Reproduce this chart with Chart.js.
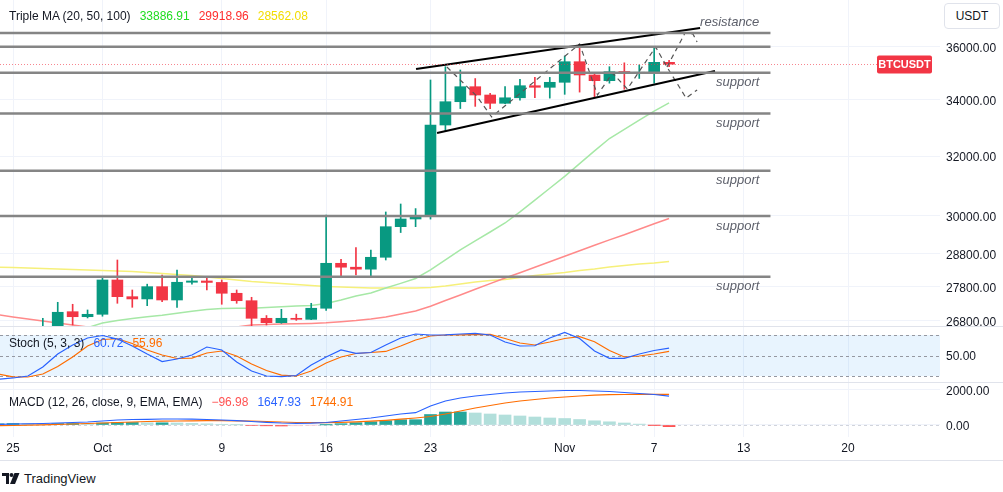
<!DOCTYPE html>
<html>
<head>
<meta charset="utf-8">
<title>BTCUSDT</title>
<script src="https://cdn.jsdelivr.net/npm/chart.js@4.4.0/dist/chart.umd.min.js"></script>
<style>
  body { margin: 0; background: #fff; font-family: 'Liberation Sans', Arial, sans-serif; }
  #wrap { position: relative; width: 1003px; height: 492px; overflow: hidden; }
  #c { position: absolute; left: 0; top: 0; }
  .lbl { position: absolute; left: 9px; font-size: 12px; line-height: 14px; color: #131722; white-space: nowrap; }
  .lbl span { margin-left: 9px; }
  #unit { position: absolute; left: 944px; top: 3px; width: 54px; height: 24px; border: 1px solid #e0e3eb;
          border-radius: 4px; font-size: 12px; line-height: 24px; text-align: center; color: #131722; background: #fff; }
  #brand { position: absolute; left: 2px; top: 471px; font-size: 13px; color: #131722; display: flex; align-items: center; }
  #brand svg { margin-right: 4px; }
</style>
</head>
<body>
<div id="wrap">
  <canvas id="c" width="1003" height="462"></canvas>
  <div class="lbl" style="top:9px">Triple MA (20, 50, 100)<span style="color:#1fdc1f">33886.91</span><span style="color:#ff2e2e">29918.96</span><span style="color:#f2dc00">28562.08</span></div>
  <div class="lbl" style="top:336px">Stoch (5, 3, 3)<span style="color:#2962ff">60.72</span><span style="color:#ff6d00">55.96</span></div>
  <div class="lbl" style="top:395px">MACD (12, 26, close, 9, EMA, EMA)<span style="color:#ff5252">&minus;96.98</span><span style="color:#2962ff">1647.93</span><span style="color:#ff6d00">1744.91</span></div>
  <div id="unit">USDT</div>
  <div id="brand">
    <svg width="18" height="11" viewBox="0 0 18 11"><path d="M0 0h7v11H4V3H0z" fill="#131722"/><circle cx="9.5" cy="2" r="2" fill="#131722"/><path d="M12.5 0h5l-4.5 11H8z" fill="#131722"/></svg>
    TradingView
  </div>
</div>
<script>
// daily candles, Sep 24 .. Nov 8
const dates = ['Sep 24','Sep 25','Sep 26','Sep 27','Sep 28','Sep 29','Sep 30',
  'Oct 1','Oct 2','Oct 3','Oct 4','Oct 5','Oct 6','Oct 7','Oct 8','Oct 9','Oct 10','Oct 11','Oct 12','Oct 13',
  'Oct 14','Oct 15','Oct 16','Oct 17','Oct 18','Oct 19','Oct 20','Oct 21','Oct 22','Oct 23','Oct 24','Oct 25',
  'Oct 26','Oct 27','Oct 28','Oct 29','Oct 30','Oct 31','Nov 1','Nov 2','Nov 3','Nov 4','Nov 5','Nov 6','Nov 7','Nov 8'];

const opens  = [null,null,null,26400,26500,27062,26916,26986,28002,27503,27436,27801,27405,27933,27972,27928,27604,27384,26870,26743,26870,26840,27162,28510,28390,28330,28695,29656,29903,29996,33088,33929,34482,34175,33871,34073,34519,34460,34646,35423,34920,34706,35050,34985,35020,35400];
const highs  = [null,null,null,26870,27337,27279,27112,28090,28611,27702,27876,28153,28305,28063,28101,28002,27702,27485,26950,27132,26990,27308,30032,28632,28993,28921,30130,30390,30240,34732,35233,35108,34786,34240,34482,34759,34830,34830,35640,36000,35000,35233,35380,35300,36000,35480];
const lows   = [null,null,null,26350,26450,26677,26880,26930,27308,27190,27237,27355,27190,27876,27702,27279,27308,26650,26677,26725,26810,26830,27100,28102,28153,28102,28611,29470,29656,29900,32870,33680,33759,33680,33860,33985,34073,34060,34200,34282,34102,34613,34387,34790,34613,35230];
const closes = [null,null,null,26500,27045,26916,26986,28002,27503,27436,27801,27405,27933,27972,27928,27604,27384,26870,26743,26870,26840,27162,28510,28390,28330,28695,29656,29903,29996,33088,33929,34482,34175,33871,34073,34519,34460,34646,35423,34920,34706,35044,34985,35020,35400,35330];

const ma20  = [null,null,null,null,null,null,26600,26735,26807,26862,26914,26957,27016,27074,27127,27156,27162,27162,27185,27206,27230,27244,27300,27405,27524,27612,27762,27900,28046,28308,28614,28927,29205,29487,29775,30133,30518,30910,31310,31740,32180,32610,32930,33260,33590,33887];
const ma50  = [26972,26910,26850,26792,26735,26677,26620,26590,26570,26555,26545,26540,26540,26545,26555,26570,26620,26677,26691,26706,26714,26723,26740,26769,26804,26850,26908,26995,27083,27220,27388,27554,27723,27893,28060,28223,28390,28555,28725,28897,29068,29237,29399,29575,29752,29919];
const ma100 = [28390,28381,28366,28351,28336,28320,28305,28290,28275,28259,28229,28198,28168,28137,28092,28046,28002,27957,27927,27897,27867,27837,27807,27792,27777,27762,27762,27762,27762,27777,27822,27882,27942,27987,28017,28077,28137,28183,28229,28290,28336,28397,28443,28489,28519,28562];

const stochK = [15.2,17.1,20,33.2,52.2,65.4,75.6,79.3,74.2,63.9,52.2,41.2,44.9,50.7,62.4,58.1,40.5,27.3,20,19,20.7,36.1,47.8,58.1,53.2,54.4,65.4,75.6,81.5,80,80.3,81.5,82.5,80,69.8,63.9,64.3,75.6,83.7,74.9,56.6,45.9,45.9,52.2,57.3,60.72];
const stochD = [22.9,18.8,18.5,22.9,33.9,47.8,63.9,73.4,74.5,67.6,58.1,50.7,45.6,46.3,53.7,56.6,49.3,37.6,28,21.4,20,27.3,39,47.8,52.9,54.4,55.9,63.9,72.7,78.6,80,80.3,80.7,81,74.9,68.3,65.4,69.8,74.9,77.5,70.2,57.3,47.8,49.3,52.2,55.96];

const macdLine   = [29,57,70,86,114,143,171,229,286,314,326,343,343,331,314,286,246,200,154,114,97,103,143,229,314,400,514,629,703,1086,1371,1543,1657,1743,1829,1886,1914,1943,1971,1971,1943,1914,1857,1800,1743,1648];
const signalLine = [-40,-29,-11,11,34,57,86,114,143,171,200,217,229,240,246,246,240,229,200,171,143,131,137,154,183,217,269,331,400,486,629,800,971,1114,1257,1371,1457,1543,1600,1657,1703,1731,1743,1749,1749,1745];
const macdHist   = [69,86,81,75,80,86,85,115,143,143,126,126,114,91,68,40,6,-29,-46,-57,-46,-28,6,75,131,183,245,298,303,600,742,743,686,629,572,515,457,400,371,314,240,183,114,51,-6,-97];

// time axis
const tickDays   = [1, 7, 15, 22, 29, 38, 44, 50, 57];
const tickLabels = ['25', 'Oct', '9', '16', '23', 'Nov', '7', '13', '20'];
const priceTicks = [26800, 27800, 28800, 30000, 32000, 34000, 36000];

// drawings: horizontal levels and channel
const levels     = [36535, 36000, 35000, 33500, 31500, 30000, 28100];
const levelNotes = ['resistance', '', 'support', 'support', 'support', 'support', 'support'];
const channelTop = [{x: 28.03, y: 35146}, {x: 47.08, y: 36732}];
const channelBot = [{x: 29.44, y: 32806}, {x: 48.08, y: 35070}];
const swingPath  = [{x: 30.1, y: 35221}, {x: 32.1, y: 34138}, {x: 33.1, y: 33375}, {x: 39.0, y: 36105},
  {x: 40.2, y: 34176}, {x: 41.2, y: 34994}, {x: 42.2, y: 34397}, {x: 44.1, y: 35988}, {x: 44.86, y: 35221},
  {x: 46.14, y: 34065}, {x: 46.88, y: 34360}];
const swingAlt   = [{x: 44.86, y: 35221}, {x: 46.07, y: 36535}, {x: 46.6, y: 36497}, {x: 46.88, y: 36183}];

const UP = '#089981', DOWN = '#f23645';

const bodies = [], wicks = [];
opens.forEach((o, k) => {
  if (o == null) return;
  const up = closes[k] >= o;
  bodies.push({x: k, y: [o, closes[k]], up});
  wicks.push({x: k, y: [lows[k], highs[k]], up});
});
const series = arr => arr.map((v, k) => ({x: k, y: v}));
const candleColor = c => (c.raw && c.raw.up) ? UP : DOWN;

const histColor = c => {
  const k = c.dataIndex, v = macdHist[k], p = k > 0 ? macdHist[k - 1] : v;
  if (v >= 0) return v >= p ? '#26a69a' : '#b2dfdb';
  return v < p ? '#ff5252' : '#ffcdd2';
};

// no label padding, so the panes fill the plot exactly
const noPad = w => s => {
  if (w) s.width = w; else s.height = 25;
  s.paddingTop = 0; s.paddingBottom = 0; s.paddingLeft = 0; s.paddingRight = 0;
};

const panes = {
  id: 'panes',
  beforeDatasetsDraw(chart) {
    const {ctx, chartArea: a, scales: {ys, ym}} = chart;
    ctx.save();
    const t = ys.getPixelForValue(80), b = ys.getPixelForValue(20);
    ctx.fillStyle = 'rgba(33,150,243,0.1)';
    ctx.fillRect(a.left, t, a.right - a.left, b - t);
    ctx.strokeStyle = '#9598a1';
    ctx.lineWidth = 1;
    ctx.setLineDash([3, 3]);
    [80, 50, 20].forEach(v => {
      const py = Math.round(ys.getPixelForValue(v)) + 0.5;
      ctx.beginPath(); ctx.moveTo(a.left, py); ctx.lineTo(a.right, py); ctx.stroke();
    });
    ctx.strokeStyle = '#d1d4dc';
    const z = Math.round(ym.getPixelForValue(0)) + 0.5;
    ctx.beginPath(); ctx.moveTo(a.left, z); ctx.lineTo(a.right, z); ctx.stroke();
    ctx.restore();
  },
  afterDatasetsDraw(chart) {
    const {ctx, chartArea: a, scales: {x, y}} = chart;
    ctx.save();
    ctx.beginPath(); ctx.rect(a.left, y.top, a.right - a.left, y.bottom - y.top); ctx.clip();
    const xEnd = x.getPixelForValue(51.8);
    ctx.strokeStyle = '#858585';
    ctx.lineWidth = 2.5;
    levels.forEach(v => {
      const py = y.getPixelForValue(v);
      ctx.beginPath(); ctx.moveTo(a.left, py); ctx.lineTo(xEnd, py); ctx.stroke();
    });
    ctx.font = 'italic 13px "Liberation Sans", Arial, sans-serif';
    ctx.fillStyle = '#5d606b';
    ctx.textBaseline = 'middle';
    levels.forEach((v, k) => {
      if (!levelNotes[k]) return;
      const py = y.getPixelForValue(v);
      const above = levelNotes[k] === 'resistance';
      ctx.fillText(levelNotes[k], x.getPixelForValue(above ? 47.08 : 48.15), py + (above ? -11 : 10));
    });
    // last price line and badge
    const last = closes[closes.length - 1];
    const py = Math.round(y.getPixelForValue(last)) + 0.5;
    ctx.strokeStyle = 'rgba(242,54,69,0.6)';
    ctx.lineWidth = 1;
    ctx.setLineDash([1, 2]);
    ctx.beginPath(); ctx.moveTo(a.left, py); ctx.lineTo(a.right - 63, py); ctx.stroke();
    ctx.setLineDash([]);
    ctx.fillStyle = DOWN;
    ctx.beginPath(); ctx.roundRect(a.right - 63, py - 9, 55, 18, 2); ctx.fill();
    ctx.fillStyle = '#fff';
    ctx.font = 'bold 11px "Liberation Sans", Arial, sans-serif';
    ctx.textAlign = 'center';
    ctx.fillText('BTCUSDT', a.right - 35.5, py + 0.5);
    ctx.restore();
  },
  afterDraw(chart) {
    const {ctx, width, scales: {x, ys, ym}} = chart;
    ctx.save();
    ctx.strokeStyle = '#e0e3eb';
    ctx.lineWidth = 1;
    [ys.top, ym.top, x.bottom - 2].forEach(v => {
      const py = Math.round(v) + 0.5;
      ctx.beginPath(); ctx.moveTo(0, py); ctx.lineTo(width, py); ctx.stroke();
    });
    ctx.restore();
  }
};

Chart.defaults.font.family = "'Liberation Sans', Arial, sans-serif";
Chart.defaults.font.size = 12;
Chart.defaults.color = '#131722';

const lineDs = (data, color, axis, width, order, extra) => Object.assign({
  type: 'line', data, borderColor: color, borderWidth: width, pointRadius: 0,
  yAxisID: axis, order, tension: 0
}, extra || {});

const axisTicks = {autoSkip: false, padding: 6, labelOffset: 1.5, callback: v => Number(v).toFixed(2)};

new Chart(document.getElementById('c'), {
  type: 'line',
  data: {
    datasets: [
      lineDs(channelTop, '#000', 'y', 2, 0),
      lineDs(channelBot, '#000', 'y', 2, 0),
      lineDs(swingPath, '#555', 'y', 1.2, 0, {borderDash: [5, 4]}),
      lineDs(swingAlt, '#555', 'y', 1.2, 0, {borderDash: [5, 4]}),
      {type: 'bar', data: bodies, yAxisID: 'y', order: 1, grouped: false, barThickness: 11,
       minBarLength: 1, borderWidth: 0, backgroundColor: candleColor},
      {type: 'bar', data: wicks, yAxisID: 'y', order: 2, grouped: false, barThickness: 1,
       borderWidth: 0, backgroundColor: candleColor},
      lineDs(series(ma20), '#a6e8a6', 'y', 1.5, 3),
      lineDs(series(ma50), '#ff8a8a', 'y', 1.5, 3),
      lineDs(series(ma100), '#f6f07a', 'y', 1.5, 3),
      lineDs(series(stochK), '#2962ff', 'ys', 1.2, 3),
      lineDs(series(stochD), '#ff6d00', 'ys', 1.2, 3),
      lineDs(series(macdLine), '#2962ff', 'ym', 1.2, 3),
      lineDs(series(signalLine), '#ff6d00', 'ym', 1.2, 3),
      {type: 'bar', data: series(macdHist), yAxisID: 'ym', order: 4, grouped: false, barThickness: 12,
       borderWidth: 0, backgroundColor: histColor}
    ]
  },
  options: {
    responsive: false,
    animation: false,
    devicePixelRatio: 1,
    layout: {padding: 0},
    plugins: {legend: {display: false}, tooltip: {enabled: false}},
    scales: {
      x: {
        type: 'linear', min: 0.128, max: 63.17, offset: false,
        afterBuildTicks: s => { s.ticks = tickDays.map(v => ({value: v})); },
        afterFit: noPad(0),
        ticks: {autoSkip: false, maxRotation: 0, padding: 4, callback: (v, i) => tickLabels[i]},
        grid: {color: '#f0f3fa', drawTicks: false, offset: false},
        border: {display: false}
      },
      y: {
        type: 'logarithmic', position: 'right', stack: 'panes', stackWeight: 326,
        min: 26648, max: 37857,
        afterBuildTicks: s => { s.ticks = priceTicks.map(v => ({value: v})); },
        afterFit: noPad(63),
        ticks: axisTicks,
        grid: {color: '#f0f3fa', drawTicks: false},
        border: {display: false}
      },
      ys: {
        type: 'linear', position: 'right', stack: 'panes', stackWeight: 56,
        min: 11.2, max: 93.2,
        afterBuildTicks: s => { s.ticks = [{value: 50}]; },
        afterFit: noPad(63),
        ticks: axisTicks,
        grid: {display: false, drawTicks: false},
        border: {display: false}
      },
      ym: {
        type: 'linear', position: 'right', stack: 'panes', stackWeight: 55,
        min: -686, max: 2457,
        afterBuildTicks: s => { s.ticks = [{value: 0}, {value: 2000}]; },
        afterFit: noPad(63),
        ticks: axisTicks,
        grid: {color: '#f0f3fa', drawTicks: false},
        border: {display: false}
      }
    }
  },
  plugins: [panes]
});
</script>
</body>
</html>
